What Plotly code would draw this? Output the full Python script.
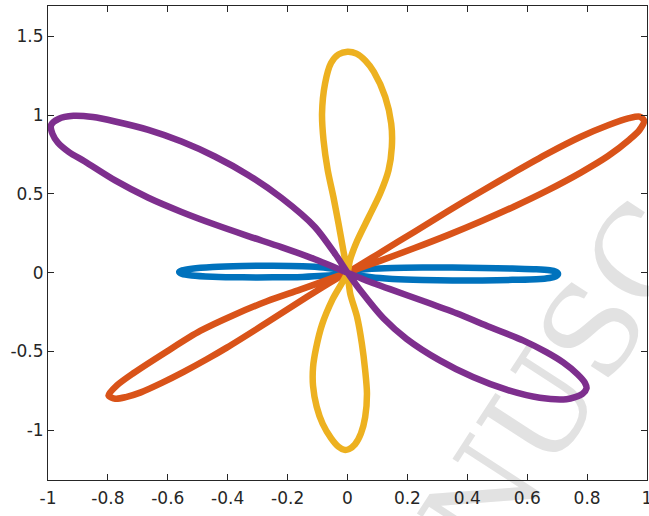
import plotly.graph_objects as go

# ---- data ----
blue_x = [0, 0.02, 0.08, 0.15, 0.25, 0.35, 0.45, 0.55, 0.63, 0.675, 0.695, 0.703, 0.695, 0.675, 0.63,
          0.55, 0.45, 0.35, 0.25, 0.15, 0.08, 0.02, 0,
          -0.02, -0.08, -0.15, -0.25, -0.35, -0.45, -0.52, -0.552, -0.562, -0.552, -0.52, -0.45,
          -0.35, -0.25, -0.15, -0.08, -0.02, 0]
blue_y = [0, 0.012, 0.025, 0.03, 0.032, 0.032, 0.03, 0.026, 0.022, 0.015, 0.006, -0.008, -0.024, -0.034, -0.042,
          -0.046, -0.05, -0.05, -0.047, -0.04, -0.03, -0.012, 0,
          0.014, 0.032, 0.04, 0.043, 0.042, 0.036, 0.025, 0.014, 0.004, -0.008, -0.018, -0.026,
          -0.03, -0.03, -0.027, -0.02, -0.008, 0]

orange_x = [0, 0.113, 0.224, 0.335, 0.446, 0.557, 0.668, 0.779, 0.87, 0.94, 0.975, 0.99,
            0.975, 0.942, 0.87, 0.779, 0.668, 0.557, 0.446, 0.335, 0.224, 0.113, 0,
            -0.047, -0.158, -0.269, -0.381, -0.492, -0.603, -0.714, -0.769, -0.798,
            -0.775, -0.74, -0.69, -0.62, -0.547, -0.47, -0.403, -0.269, -0.136, -0.042, 0]
orange_y = [0, 0.131, 0.26, 0.39, 0.515, 0.637, 0.755, 0.862, 0.935, 0.98, 0.99, 0.965,
            0.905, 0.845, 0.74, 0.635, 0.522, 0.42, 0.326, 0.238, 0.156, 0.078, 0,
            -0.032, -0.108, -0.182, -0.27, -0.37, -0.5, -0.637, -0.714, -0.779,
            -0.8, -0.79, -0.76, -0.7, -0.63, -0.55, -0.476, -0.317, -0.155, -0.045, 0]

yellow_x = [0, 0.008, 0.033, 0.071, 0.109, 0.137, 0.148, 0.146, 0.126, 0.088, 0.06, 0.03, 0.0,
            -0.03, -0.055, -0.075, -0.085, -0.08, -0.066, -0.047, -0.03, -0.014, 0,
            0.009, 0.032, 0.048, 0.059, 0.065, 0.059, 0.045, 0.025, 0.005, -0.01,
            -0.03, -0.055, -0.083, -0.103, -0.115, -0.115, -0.105, -0.085, -0.05, 0]
yellow_y = [0, 0.078, 0.205, 0.353, 0.502, 0.65, 0.797, 0.946, 1.115, 1.274, 1.345, 1.39, 1.402,
            1.385, 1.33, 1.2, 1.01, 0.84, 0.65, 0.48, 0.311, 0.142, 0,
            -0.133, -0.282, -0.451, -0.62, -0.768, -0.917, -1.02, -1.09, -1.12, -1.125,
            -1.105, -1.05, -0.959, -0.85, -0.72, -0.6, -0.48, -0.33, -0.17, 0]

purple_x = [0, -0.04, -0.109, -0.221, -0.332, -0.443, -0.554, -0.665, -0.776, -0.85, -0.915, -0.965, -0.99,
            -0.985, -0.967, -0.93, -0.877, -0.776, -0.665, -0.554, -0.443, -0.332, -0.221, -0.109, 0,
            0.05, 0.142, 0.253, 0.364, 0.475, 0.586, 0.664, 0.72, 0.768, 0.793, 0.798,
            0.785, 0.76, 0.731, 0.642, 0.531, 0.419, 0.308, 0.197, 0.12, 0.05, 0]
purple_y = [0, 0.115, 0.29, 0.475, 0.62, 0.737, 0.832, 0.906, 0.959, 0.987, 0.995, 0.975, 0.935,
            0.88, 0.825, 0.765, 0.705, 0.585, 0.475, 0.385, 0.305, 0.232, 0.162, 0.085, 0,
            -0.04, -0.105, -0.18, -0.258, -0.345, -0.43, -0.505, -0.57, -0.645, -0.7, -0.735,
            -0.768, -0.79, -0.803, -0.794, -0.743, -0.663, -0.557, -0.42, -0.29, -0.13, 0]

x_ticks = [-1, -0.8, -0.6, -0.4, -0.2, 0, 0.2, 0.4, 0.6, 0.8, 1]
x_tick_labels = ["-1", "-0.8", "-0.6", "-0.4", "-0.2", "0", "0.2", "0.4", "0.6", "0.8", "1"]
y_ticks = [-1, -0.5, 0, 0.5, 1, 1.5]
y_tick_labels = ["-1", "-0.5", "0", "0.5", "1", "1.5"]

series = [
    (blue_x, blue_y, "#0072BD"),
    (orange_x, orange_y, "#D95319"),
    (yellow_x, yellow_y, "#EDB120"),
    (purple_x, purple_y, "#7E2F8E"),
]

fig = go.Figure()
for xs, ys, col in series:
    fig.add_trace(go.Scatter(x=xs, y=ys, mode="lines",
                             line=dict(color=col, width=6.5, shape="spline", smoothing=0.8),
                             hoverinfo="skip"))

axis_common = dict(ticks="inside", ticklen=6, tickcolor="#262626", tickwidth=1,
                   showline=True, linecolor="#262626", linewidth=1, mirror="ticks",
                   showgrid=False, zeroline=False, automargin=False,
                   ticklabeloverflow="allow",
                   tickfont=dict(family="DejaVu Sans", size=17, color="#262626"))

fig.update_xaxes(range=[-1, 1], tickvals=x_ticks, ticktext=x_tick_labels,
                 ticklabelstandoff=3, **axis_common)
fig.update_yaxes(range=[-1.316, 1.692], tickvals=y_ticks, ticktext=y_tick_labels, **axis_common)

# light watermark behind the curves
fig.add_shape(type="rect", xref="paper", yref="paper",
              x0=0.842, x1=0.844, y0=0.221, y1=0.223,
              line=dict(width=0), fillcolor="rgba(0,0,0,0)", layer="below",
              label=dict(text="NUSC", textangle=-57, textposition="middle center",
                         font=dict(family="DejaVu Serif", size=124, color="#e2e2e2")))

fig.update_layout(width=649, height=516, margin=dict(l=48, r=2, t=6, b=36),
                  paper_bgcolor="white", plot_bgcolor="rgba(0,0,0,0)", showlegend=False)

fig.write_html("out.html", config={"displayModeBar": False},
               post_script="document.body.style.margin='0';document.body.style.overflow='hidden';")
